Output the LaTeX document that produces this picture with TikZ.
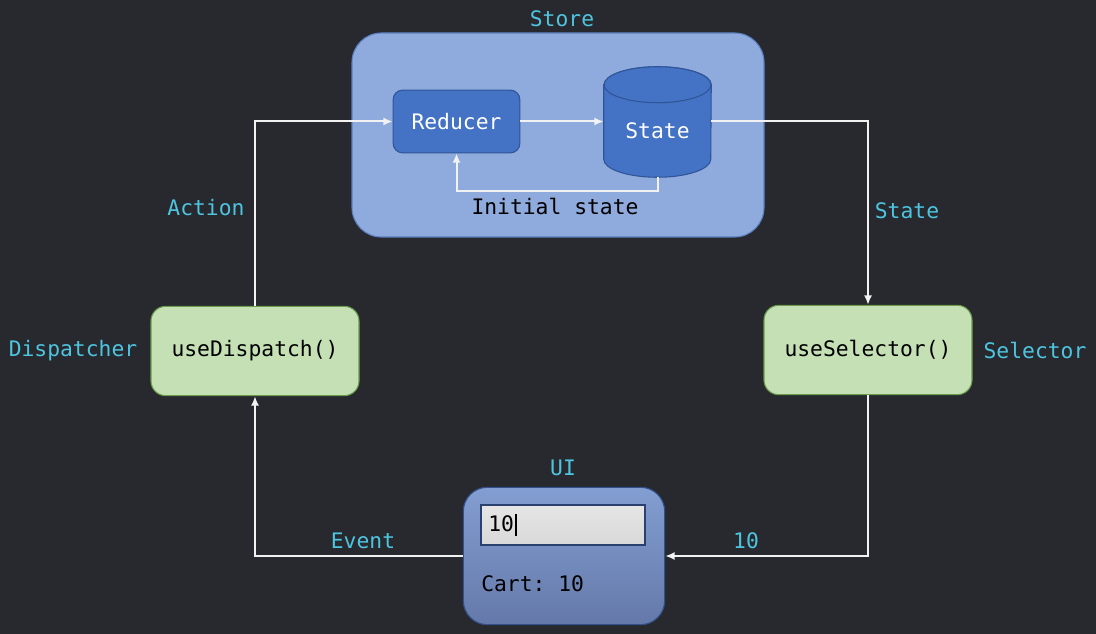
\documentclass[tikz,border=0pt]{standalone}
\usepackage{fontspec}
\setmonofont{DejaVu Sans Mono}
\usetikzlibrary{shapes, arrows.meta, positioning}
\definecolor{bgdark}{HTML}{27292F}
\definecolor{storefill}{HTML}{8FAADC}
\definecolor{storeline}{HTML}{5B7FC0}
\definecolor{redfill}{HTML}{4472C4}
\definecolor{redline}{HTML}{2F5597}
\definecolor{hookfill}{HTML}{C5E0B4}
\definecolor{hookline}{HTML}{6A9A4A}
\definecolor{uitop}{HTML}{839ED2}
\definecolor{uibottom}{HTML}{6479A9}
\definecolor{uiline}{HTML}{34508A}
\definecolor{tagcyan}{HTML}{4EC5DF}
\definecolor{flowline}{HTML}{F2F2F2}

\begin{document}
\begin{tikzpicture}[x=0.75pt,y=-0.75pt,
    font=\ttfamily\fontsize{16}{19}\selectfont,
    flow/.style={draw=flowline,line width=1.5pt,-{Latex[length=7pt,width=6pt]}},
    tag/.style={text=tagcyan},
    hook/.style={draw=hookline,fill=hookfill,rounded corners=11pt,line width=0.8pt,minimum width=156pt,minimum height=67pt},
    drum/.style={draw=redline,fill=redfill,line width=0.8pt},
    ]
	  \fill[bgdark] (0,0) rectangle (1096,634);
	  \useasboundingbox (0,0) rectangle (1096,634);
	  \node at (558,135) (store) [draw=storeline,fill=storefill,rounded corners=22pt,line width=0.8pt,minimum width=309pt,minimum height=153pt]{};
	  \node at (562,19) (storetag) [tag]{Store};
	  \node at (456.5,121.5) (reducer) [draw=redline,fill=redfill,rounded corners=7pt,line width=0.8pt,minimum width=95pt,minimum height=47pt,text=white]{Reducer};
	  % state drum
	  \node at (657.5,122) (state) [inner sep=0pt,minimum width=80.25pt,minimum height=82.5pt]{};
	  \draw[drum] ([yshift=-13.5pt]state.north west) -- ([yshift=13.5pt]state.south west)
	    arc[start angle=180,end angle=360,x radius=40.125pt,y radius=13.5pt]
	    -- ([yshift=-13.5pt]state.north east)
	    arc[start angle=0,end angle=180,x radius=40.125pt,y radius=13.5pt] -- cycle;
	  \draw[drum] ([yshift=-13.5pt]state.north) ellipse[x radius=40.125pt,y radius=13.5pt];
	  \node at (657.5,131) (statetext) [text=white]{State};
	  \node at (555,206) (init) {Initial state};
	  \node at (255,351) (dispatch) [hook]{useDispatch()};
	  \node at (868,350) (selector) [hook]{useSelector()};
	  \node at (73,351) (dispatchtag) [tag]{Dispatcher};
	  \node at (1035,350) (selectortag) [tag]{Selector};
	  \node at (564,556) (ui) [draw=uiline,top color=uitop,bottom color=uibottom,rounded corners=18pt,line width=0.8pt,minimum width=151pt,minimum height=103pt]{};
	  \node at (563,468) (uitag) [tag]{UI};
	  \node at (563,525) (field) [draw=uiline!80!black,top color=black!10,bottom color=black!15,line width=0.8pt,minimum width=123pt,minimum height=30pt,text width=112pt,align=left]{10\hspace{1pt}\rule[-4pt]{1pt}{17pt}};
	  \node at (481,584) (cart) [anchor=west,inner sep=0pt]{Cart: 10};
	  \node at (206,208) (actiontag) [tag]{Action};
	  \node at (907,211) (statetag) [tag]{State};
	  \node at (363,541) (eventtag) [tag]{Event};
	  \node at (746,541) (valuetag) [tag]{10};
	  % loop through the store
	  \draw[flow](reducer) -- (state.west |- reducer);
	  \draw[flow](state.south) -- ++(0,14) -| (reducer.south);
	  \draw[flow](dispatch.north) |- (reducer.west);
	  \draw[flow](state.east |- reducer) -| (selector.north);
	  \draw[flow](selector.south) |- (ui.east);
	  \draw[flow](ui.west) -| (dispatch.south);
	\end{tikzpicture}
\end{document}
